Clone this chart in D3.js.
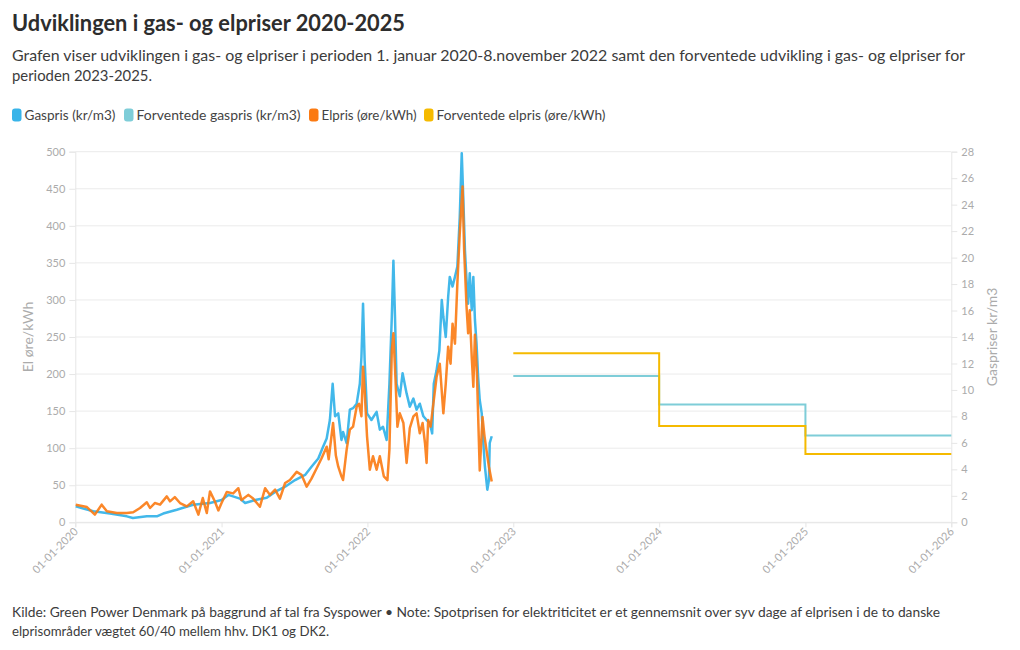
<!DOCTYPE html>
<html><head><meta charset="utf-8">
<script src="https://cdn.jsdelivr.net/npm/d3@7"></script>
<style>
body{margin:0;background:#fff;}
svg text{font-family:Lato,"Open Sans",sans-serif;}
</style></head><body>
<svg id="chart" width="1020" height="650"></svg>
<script>
// ---------------- DATA ----------------
const gasDates = ["2020-01-02","2020-02-15","2020-03-28","2020-05-09","2020-05-24","2020-06-28","2020-07-23","2020-08-08","2020-09-11","2020-10-22","2020-12-03","2021-01-01","2021-01-18","2021-02-16","2021-03-01","2021-03-26","2021-04-24","2021-05-15","2021-06-09","2021-07-04","2021-07-29","2021-08-14","2021-08-31","2021-09-12","2021-09-21","2021-09-29","2021-10-06","2021-10-12","2021-10-20","2021-10-28","2021-11-01","2021-11-10","2021-11-18","2021-11-26","2021-12-05","2021-12-13","2021-12-17","2021-12-21","2021-12-25","2021-12-31","2022-01-11","2022-01-24","2022-02-01","2022-02-09","2022-02-18","2022-02-25","2022-03-03","2022-03-07","2022-03-11","2022-03-15","2022-03-23","2022-03-30","2022-04-09","2022-04-17","2022-04-26","2022-05-04","2022-05-12","2022-05-21","2022-05-29","2022-06-06","2022-06-12","2022-06-16","2022-06-23","2022-06-30","2022-07-06","2022-07-10","2022-07-16","2022-07-22","2022-07-26","2022-08-02","2022-08-08","2022-08-14","2022-08-20","2022-08-25","2022-08-29","2022-09-02","2022-09-06","2022-09-10","2022-09-14","2022-09-19","2022-09-23","2022-09-27","2022-10-01","2022-10-05","2022-10-09","2022-10-14","2022-10-18","2022-10-22","2022-10-28","2022-11-01","2022-11-03","2022-11-08"];
const gasValues = [1.20,0.83,0.66,0.45,0.32,0.45,0.45,0.66,0.95,1.33,1.46,1.68,2.07,1.79,1.46,1.68,1.85,2.30,2.69,3.19,3.58,4.20,4.82,5.71,6.33,7.73,10.47,8.01,8.23,6.22,6.83,5.99,8.51,8.62,8.96,10.47,12.49,16.52,12.26,8.23,7.73,8.34,7.00,7.22,6.22,10.47,15.51,19.77,15.51,10.47,9.52,11.26,9.74,8.74,9.35,8.51,8.96,8.01,7.73,7.50,6.72,10.47,11.48,12.99,16.80,15.51,14.00,17.02,18.54,17.81,18.54,19.32,23.07,27.89,24.36,20.55,18.31,16.52,18.82,16.02,18.54,15.29,13.50,10.98,9.24,8.23,5.99,4.20,2.46,3.19,5.99,6.50];

const elDates = ["2020-01-02","2020-01-30","2020-02-19","2020-03-07","2020-03-20","2020-04-14","2020-05-09","2020-05-25","2020-06-11","2020-06-28","2020-07-06","2020-07-18","2020-07-31","2020-08-17","2020-08-25","2020-09-06","2020-09-19","2020-10-06","2020-10-22","2020-11-04","2020-11-15","2020-11-25","2020-12-03","2020-12-15","2020-12-24","2021-01-01","2021-01-14","2021-01-30","2021-02-12","2021-02-20","2021-03-09","2021-03-21","2021-04-07","2021-04-20","2021-05-02","2021-05-15","2021-05-27","2021-06-09","2021-06-21","2021-07-08","2021-07-20","2021-08-02","2021-08-14","2021-08-27","2021-09-08","2021-09-21","2021-09-26","2021-10-07","2021-10-14","2021-10-20","2021-10-28","2021-11-01","2021-11-10","2021-11-18","2021-11-26","2021-12-05","2021-12-11","2021-12-17","2021-12-21","2021-12-25","2021-12-31","2022-01-07","2022-01-15","2022-01-24","2022-02-01","2022-02-11","2022-02-20","2022-02-25","2022-03-03","2022-03-07","2022-03-12","2022-03-17","2022-03-23","2022-04-01","2022-04-09","2022-04-17","2022-04-26","2022-05-04","2022-05-12","2022-05-19","2022-05-25","2022-05-29","2022-06-02","2022-06-08","2022-06-15","2022-06-23","2022-07-01","2022-07-10","2022-07-16","2022-07-22","2022-07-28","2022-08-02","2022-08-08","2022-08-14","2022-08-20","2022-08-27","2022-08-31","2022-09-06","2022-09-10","2022-09-14","2022-09-19","2022-09-23","2022-09-27","2022-10-02","2022-10-09","2022-10-16","2022-10-21","2022-10-26","2022-11-01","2022-11-08"];
const elValues = [23.8,20.6,10.3,23.8,14.8,12.5,12.5,13.5,19.3,27,19.3,26,23.8,35,28.3,34,26,21.5,28.3,10.3,32.7,12.5,41.7,28.3,16,26,41,39,46,30,37,32,21,46,37,44,32,53,57,68,64,48,59,73,86,102,85,134,90,75,62,57,98,125,129,156,160,143,210,178,116,71,89,71,89,62,57,98,232,255,196,129,147,134,80,127,143,147,120,134,107,80,138,129,160,196,214,147,187,237,214,268,241,322,390,453,367,291,255,286,223,183,253,200,70,142,116,97,75,55];

const forecastDates = ["2023-01-01","2024-01-01","2025-01-01","2026-01-01"];
const forecastGas = [11.05,8.9,6.55,6.55];
const forecastEl = [228,130,92,92];

const leftTicks = [0,50,100,150,200,250,300,350,400,450,500];
const rightTicks = [0,2,4,6,8,10,12,14,16,18,20,22,24,26,28];
const xTicks = ["2020-01-01","2021-01-01","2022-01-01","2023-01-01","2024-01-01","2025-01-01","2026-01-01"];

const seriesNames = ["Gaspris (kr/m3)","Forventede gaspris (kr/m3)","Elpris (øre/kWh)","Forventede elpris (øre/kWh)"];
const seriesColors = ["#38b4e9","#7ecdd8","#fb7a12","#f5ba00"];

// ---------------- CHART ----------------
const parse = d3.timeParse("%Y-%m-%d");
const svg = d3.select("#chart");
const L = 75.3, R = 951.3, T = 151.7, B = 522.3;

const x = d3.scaleTime().domain([parse("2020-01-01"), parse("2026-01-01")]).range([L, R]);
const yL = d3.scaleLinear().domain([0,500]).range([B, T]);
const yR = d3.scaleLinear().domain([0,28]).range([B, T]);

function fit(sel, w){ sel.attr("textLength", w).attr("lengthAdjust","spacingAndGlyphs"); return sel; }

// Title & subtitle
fit(svg.append("text").attr("x",12).attr("y",31).attr("font-size",22).attr("font-weight",700)
  .attr("fill","#2d2d2d").text("Udviklingen i gas- og elpriser 2020-2025"), 393);
fit(svg.append("text").attr("x",12).attr("y",61).attr("font-size",16).attr("fill","#3c3c3c")
  .text("Grafen viser udviklingen i gas- og elpriser i perioden 1. januar 2020-8.november 2022 samt den forventede udvikling i gas- og elpriser for"), 953);
fit(svg.append("text").attr("x",12).attr("y",81).attr("font-size",16).attr("fill","#3c3c3c")
  .text("perioden 2023-2025."), 140);

// Legend
const legendX = [12, 124, 309, 424];
const legendW = [91, 164, 95, 169];
seriesNames.forEach((n,i)=>{
  svg.append("rect").attr("x",legendX[i]).attr("y",108.5).attr("width",9.5).attr("height",13).attr("rx",3)
    .attr("fill",seriesColors[i]);
  fit(svg.append("text").attr("x",legendX[i]+12.5).attr("y",119.5).attr("font-size",13).attr("fill","#444")
    .text(n), legendW[i]);
});

// Grid
const grid = svg.append("g");
grid.selectAll("line").data(leftTicks).join("line")
  .attr("x1",L).attr("x2",R).attr("y1",d=>yL(d)).attr("y2",d=>yL(d))
  .attr("stroke","#ebebeb").attr("stroke-width",1);

// Left axis
const gL = svg.append("g").attr("transform",`translate(${L},0)`)
  .call(d3.axisLeft(yL).tickValues(leftTicks).tickSize(6).tickPadding(4));
// Right axis
const gR = svg.append("g").attr("transform",`translate(${R},0)`)
  .call(d3.axisRight(yR).tickValues(rightTicks).tickSize(6).tickPadding(4));
// X axis
const gX = svg.append("g").attr("transform",`translate(0,${B})`)
  .call(d3.axisBottom(x).tickValues(xTicks.map(parse)).tickSize(5).tickFormat(d3.timeFormat("%d-%m-%Y")));
[gL,gR,gX].forEach(g=>{
  g.select(".domain").attr("stroke","#e6e6e6");
  g.selectAll(".tick line").attr("stroke","#e6e6e6");
  g.selectAll(".tick text").attr("fill","#ababab").attr("font-size",11).attr("font-family","Lato, sans-serif");
});
gX.selectAll(".tick text").attr("text-anchor","end").attr("dy",null).attr("y",null)
  .attr("transform","translate(3,10) rotate(-45)");

// Axis titles
svg.append("text").attr("transform",`translate(33,${(T+B)/2}) rotate(-90)`).attr("text-anchor","middle")
  .attr("font-size",14).attr("fill","#ababab").text("El øre/kWh");
svg.append("text").attr("transform",`translate(997,${(T+B)/2}) rotate(-90)`).attr("text-anchor","middle")
  .attr("font-size",14).attr("fill","#ababab").text("Gaspriser kr/m3");

// Lines
const gasData = gasDates.map((d,i)=>({date:parse(d), v:gasValues[i]}));
const elData = elDates.map((d,i)=>({date:parse(d), v:elValues[i]}));
const fGas = forecastDates.map((d,i)=>({date:parse(d), v:forecastGas[i]}));
const fEl = forecastDates.map((d,i)=>({date:parse(d), v:forecastEl[i]}));

const lineR = d3.line().x(d=>x(d.date)).y(d=>yR(d.v));
const lineL = d3.line().x(d=>x(d.date)).y(d=>yL(d.v));
const stepR = d3.line().curve(d3.curveStepAfter).x(d=>x(d.date)).y(d=>yR(d.v));
const stepL = d3.line().curve(d3.curveStepAfter).x(d=>x(d.date)).y(d=>yL(d.v));

svg.append("path").datum(fGas).attr("d",stepR).attr("fill","none").attr("stroke",seriesColors[1]).attr("stroke-width",2);
svg.append("path").datum(fEl).attr("d",stepL).attr("fill","none").attr("stroke",seriesColors[3]).attr("stroke-width",2);
svg.append("path").datum(gasData).attr("d",lineR).attr("fill","none").attr("stroke",seriesColors[0])
  .attr("stroke-width",2.5).attr("stroke-linejoin","round").attr("stroke-opacity",0.95);
svg.append("path").datum(elData).attr("d",lineL).attr("fill","none").attr("stroke",seriesColors[2])
  .attr("stroke-width",2.5).attr("stroke-linejoin","round").attr("stroke-opacity",0.9);

// Footer
fit(svg.append("text").attr("x",12).attr("y",617).attr("font-size",13).attr("fill","#3c3c3c")
  .text("Kilde: Green Power Denmark på baggrund af tal fra Syspower • Note: Spotprisen for elektriticitet er et gennemsnit over syv dage af elprisen i de to danske"), 928);
fit(svg.append("text").attr("x",12).attr("y",636).attr("font-size",13).attr("fill","#3c3c3c")
  .text("elprisområder vægtet 60/40 mellem hhv. DK1 og DK2."), 317);
</script></body></html>
